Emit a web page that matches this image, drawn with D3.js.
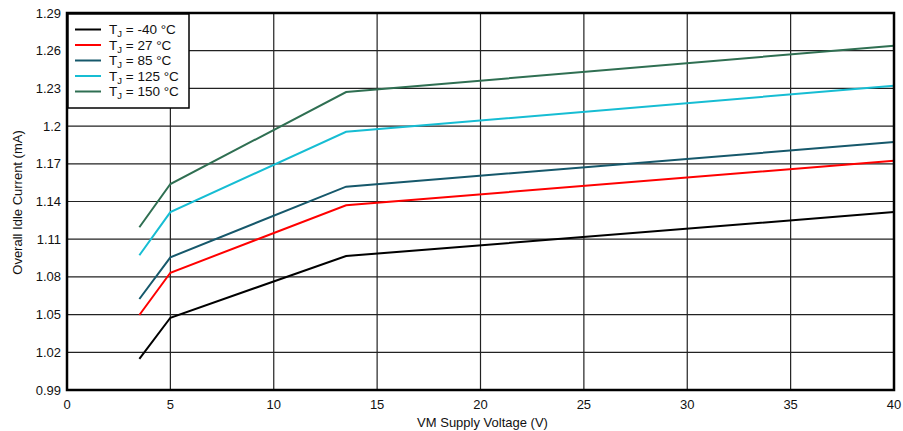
<!DOCTYPE html>
<html>
<head>
<meta charset="utf-8">
<script src="https://cdn.jsdelivr.net/npm/d3@7/dist/d3.min.js"></script>
<style>
  html, body { margin: 0; padding: 0; background: #fff; }
  svg { display: block; font-family: "Liberation Sans", Arial, sans-serif; }
</style>
</head>
<body>
<div id="chart"></div>
<script>
// ---------------------------------------------------------------------------
// Overall idle current vs VM supply voltage, one line per junction temperature
// ---------------------------------------------------------------------------
const voltages = [3.5, 5, 13.5, 40];
const tempLabels = ['-40', '27', '85', '125', '150'];
const seriesColors = ['#000000', '#ff0000', '#16586b', '#16bdd3', '#2f6f52'];
const currentM40 = [1.0147, 1.0475, 1.0966, 1.1316];
const current27 = [1.0497, 1.0833, 1.1370, 1.1725];
const current85 = [1.0624, 1.0956, 1.1518, 1.1873];
const current125 = [1.0972, 1.1316, 1.1955, 1.2321];
const current150 = [1.1195, 1.1539, 1.2271, 1.2640];
const xTicks = [0, 5, 10, 15, 20, 25, 30, 35, 40];
const yTicks = [0.99, 1.02, 1.05, 1.08, 1.11, 1.14, 1.17, 1.2, 1.23, 1.26, 1.29];

const allSeries = [currentM40, current27, current85, current125, current150];

(function() {
  'use strict';

  const width = 903, height = 431;
  const margin = { top: 13, right: 9, bottom: 41, left: 67 };
  const innerW = width - margin.left - margin.right;
  const innerH = height - margin.top - margin.bottom;

  const svg = d3.select('#chart').append('svg')
    .attr('width', width)
    .attr('height', height);

  const g = svg.append('g')
    .attr('transform', `translate(${margin.left},${margin.top})`);

  const x = d3.scaleLinear().domain([0, 40]).range([0, innerW]);
  const y = d3.scaleLinear().domain([0.99, 1.29]).range([innerH, 0]);

  // Grid
  g.append('g').selectAll('line')
    .data(xTicks.slice(1, -1))
    .join('line')
    .attr('x1', d => x(d)).attr('x2', d => x(d))
    .attr('y1', 0).attr('y2', innerH)
    .attr('stroke', '#222').attr('stroke-width', 1.2);

  g.append('g').selectAll('line')
    .data(yTicks.slice(1, -1))
    .join('line')
    .attr('x1', 0).attr('x2', innerW)
    .attr('y1', d => y(d)).attr('y2', d => y(d))
    .attr('stroke', '#222').attr('stroke-width', 1.2);

  // Tick labels
  g.append('g').selectAll('text')
    .data(xTicks)
    .join('text')
    .attr('x', d => x(d))
    .attr('y', innerH + 19)
    .attr('text-anchor', 'middle')
    .attr('font-size', '13px')
    .attr('fill', '#111')
    .text(d => d);

  g.append('g').selectAll('text')
    .data(yTicks)
    .join('text')
    .attr('x', -6)
    .attr('y', d => y(d))
    .attr('dy', '0.35em')
    .attr('text-anchor', 'end')
    .attr('font-size', '13px')
    .attr('fill', '#111')
    .text(d => d3.format('')(+d.toFixed(2)));

  // Axis titles
  svg.append('text')
    .attr('x', margin.left + innerW / 2 + 2)
    .attr('y', height - 4)
    .attr('text-anchor', 'middle')
    .attr('font-size', '13px')
    .attr('fill', '#111')
    .text('VM Supply Voltage (V)');

  svg.append('text')
    .attr('transform', `translate(22,${margin.top + innerH / 2 + 1}) rotate(-90)`)
    .attr('text-anchor', 'middle')
    .attr('font-size', '13px')
    .attr('fill', '#111')
    .text('Overall Idle Current (mA)');

  // Lines
  const line = d3.line()
    .x((d, i) => x(voltages[i]))
    .y(d => y(d));

  g.append('g').selectAll('path')
    .data(allSeries)
    .join('path')
    .attr('d', d => line(d))
    .attr('fill', 'none')
    .attr('stroke', (d, i) => seriesColors[i])
    .attr('stroke-width', 2);

  // Frame
  g.append('rect')
    .attr('x', 0).attr('y', 0)
    .attr('width', innerW).attr('height', innerH)
    .attr('fill', 'none')
    .attr('stroke', '#000')
    .attr('stroke-width', 2.5);

  // Legend
  const legend = g.append('g').attr('transform', 'translate(1,1)');
  legend.append('rect')
    .attr('x', 0).attr('y', 0)
    .attr('width', 121).attr('height', 94)
    .attr('fill', '#fff')
    .attr('stroke', '#000')
    .attr('stroke-width', 1.5);

  const rows = legend.selectAll('g.row')
    .data(tempLabels)
    .join('g')
    .attr('class', 'row')
    .attr('transform', (d, i) => `translate(0,${15.5 + i * 15.5})`);

  rows.append('line')
    .attr('x1', 7).attr('x2', 33)
    .attr('y1', 0).attr('y2', 0)
    .attr('stroke', (d, i) => seriesColors[i])
    .attr('stroke-width', 2);

  const label = rows.append('text')
    .attr('x', 41)
    .attr('y', 0)
    .attr('dy', '0.36em')
    .attr('font-size', '13.5px')
    .attr('fill', '#111');
  label.append('tspan').text('T');
  label.append('tspan').attr('font-size', '9.5px').attr('dy', '3').text('J');
  label.append('tspan').attr('dy', '-3').text(d => ` = ${d} °C`);
})();
</script>
</body>
</html>
